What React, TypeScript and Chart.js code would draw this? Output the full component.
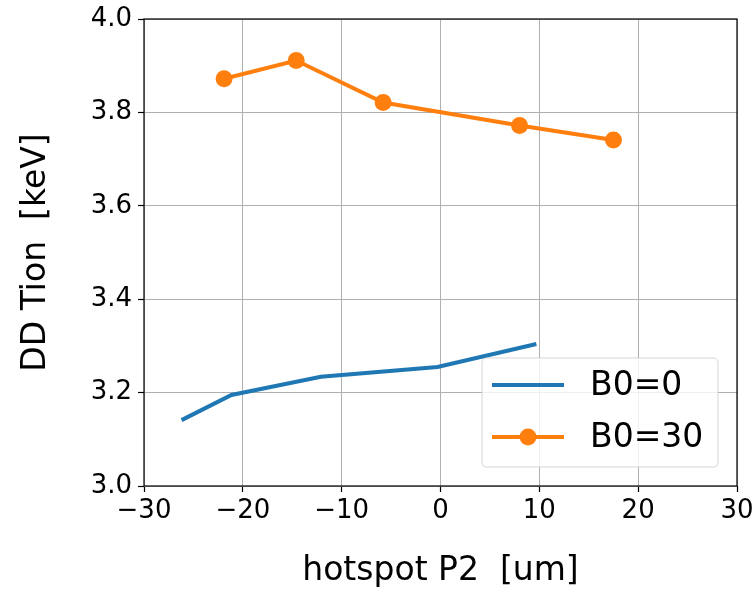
import React, { useEffect, useRef } from "react";
import { Chart, registerables } from "chart.js";

Chart.register(...registerables);

// Hotspot P2 asymmetry (um) vs. DD ion temperature (keV)
const seriesLabels = ["B0=0", "B0=30"];
const b0x = [-26.2, -21.15, -12.1, -0.3, 9.7];
const b0y = [3.141, 3.195, 3.234, 3.255, 3.304];
const b30x = [-21.9, -14.6, -5.8, 8.0, 17.5];
const b30y = [3.872, 3.911, 3.821, 3.772, 3.741];
const xTicks = [-30, -20, -10, 0, 10, 20, 30];
const yTicks = [3.0, 3.2, 3.4, 3.6, 3.8, 4.0];

const BLUE = "#1f77b4";
const ORANGE = "#ff7f0e";
const FONT = "DejaVu Sans";

const toPoints = (xs: number[], ys: number[]) => xs.map((x, i) => ({ x, y: ys[i] }));

// Four-sided frame, drawn over the data like matplotlib spines
const framePlugin = {
  id: "frame",
  afterDatasetsDraw(chart: any) {
    const { ctx, chartArea: a } = chart;
    ctx.save();
    ctx.strokeStyle = "#000";
    ctx.lineWidth = 1.2;
    ctx.strokeRect(a.left, a.top, a.right - a.left, a.bottom - a.top);
    ctx.restore();
  },
};

// Legend box inside the lower-right of the plot area
const insideLegend = {
  id: "insideLegend",
  afterDraw(chart: any) {
    const { ctx, chartArea: a } = chart;
    const w = 236;
    const h = 109;
    const x0 = a.right - 19 - w;
    const y0 = a.bottom - 19 - h;
    ctx.save();
    const r = 5;
    ctx.beginPath();
    ctx.moveTo(x0 + r, y0);
    ctx.lineTo(x0 + w - r, y0);
    ctx.quadraticCurveTo(x0 + w, y0, x0 + w, y0 + r);
    ctx.lineTo(x0 + w, y0 + h - r);
    ctx.quadraticCurveTo(x0 + w, y0 + h, x0 + w - r, y0 + h);
    ctx.lineTo(x0 + r, y0 + h);
    ctx.quadraticCurveTo(x0, y0 + h, x0, y0 + h - r);
    ctx.lineTo(x0, y0 + r);
    ctx.quadraticCurveTo(x0, y0, x0 + r, y0);
    ctx.closePath();
    ctx.fillStyle = "rgba(255,255,255,0.8)";
    ctx.fill();
    ctx.strokeStyle = "rgba(204,204,204,0.8)";
    ctx.lineWidth = 1;
    ctx.stroke();

    const rows = [y0 + 27, y0 + 79];
    chart.data.datasets.forEach((ds: any, i: number) => {
      const cy = rows[i];
      ctx.strokeStyle = ds.borderColor;
      ctx.lineWidth = ds.borderWidth;
      ctx.beginPath();
      ctx.moveTo(x0 + 10, cy);
      ctx.lineTo(x0 + 82, cy);
      ctx.stroke();
      if (ds.pointRadius > 0) {
        ctx.fillStyle = ds.pointBackgroundColor;
        ctx.beginPath();
        ctx.arc(x0 + 46, cy, ds.pointRadius, 0, Math.PI * 2);
        ctx.fill();
      }
      ctx.fillStyle = "#000";
      ctx.font = `33px "${FONT}"`;
      ctx.textBaseline = "middle";
      ctx.textAlign = "left";
      ctx.fillText(ds.label, x0 + 108, cy + 1);
    });
    ctx.restore();
  },
};

export default function App() {
  const ref = useRef<HTMLCanvasElement | null>(null);

  useEffect(() => {
    if (!ref.current) return;
    const chart = new Chart(ref.current, {
      type: "line",
      data: {
        datasets: [
          {
            label: seriesLabels[0],
            data: toPoints(b0x, b0y),
            borderColor: BLUE,
            backgroundColor: BLUE,
            borderWidth: 4,
            pointRadius: 0,
            pointHoverRadius: 0,
            pointBackgroundColor: BLUE,
            tension: 0,
          },
          {
            label: seriesLabels[1],
            data: toPoints(b30x, b30y),
            borderColor: ORANGE,
            backgroundColor: ORANGE,
            borderWidth: 4,
            pointRadius: 8.5,
            pointBorderWidth: 0,
            pointBackgroundColor: ORANGE,
            pointBorderColor: ORANGE,
            tension: 0,
          },
        ],
      },
      options: {
        animation: false,
        responsive: false,
        devicePixelRatio: 1,
        layout: { padding: { top: 19, right: 17, left: 0, bottom: 0 } },
        plugins: {
          legend: { display: false },
          tooltip: { enabled: false },
        },
        scales: {
          x: {
            type: "linear",
            min: -30,
            max: 30,
            afterBuildTicks: (axis: any) => {
              axis.ticks = xTicks.map((v) => ({ value: v }));
            },
            afterFit: (axis: any) => {
              axis.height = 104;
              axis.paddingLeft = 0;
              axis.paddingRight = 0;
            },
            grid: {
              color: "#b0b0b0",
              lineWidth: 1,
              tickLength: 6,
              tickColor: "#000",
              tickWidth: 1.2,
            },
            border: { display: false },
            ticks: {
              color: "#000",
              padding: 4,
              font: { family: FONT, size: 26 },
              maxRotation: 0,
              callback: (v: any) => String(v).replace("-", "\u2212"),
            },
            title: {
              display: true,
              text: "hotspot P2  [um]",
              color: "#000",
              font: { family: FONT, size: 33, lineHeight: 1 },
              padding: 2,
            },
          },
          y: {
            type: "linear",
            min: 3.0,
            max: 4.0,
            afterBuildTicks: (axis: any) => {
              axis.ticks = yTicks.map((v) => ({ value: v }));
            },
            afterFit: (axis: any) => {
              axis.width = 144;
              axis.paddingTop = 0;
              axis.paddingBottom = 0;
            },
            grid: {
              color: "#b0b0b0",
              lineWidth: 1,
              tickLength: 6,
              tickColor: "#000",
              tickWidth: 1.2,
            },
            border: { display: false },
            ticks: {
              color: "#000",
              padding: 6,
              font: { family: FONT, size: 26 },
              callback: (v: any) => Number(v).toFixed(1),
            },
            title: {
              display: true,
              text: "DD Tion  [keV]",
              color: "#000",
              font: { family: FONT, size: 33, lineHeight: 1 },
              padding: 20,
            },
          },
        },
      },
      plugins: [framePlugin, insideLegend],
    });
    return () => chart.destroy();
  }, []);

  return (
    <div style={{ position: "fixed", left: 0, top: 0, width: 754, height: 590, background: "#fff" }}>
      <canvas ref={ref} width={754} height={590} />
    </div>
  );
}
